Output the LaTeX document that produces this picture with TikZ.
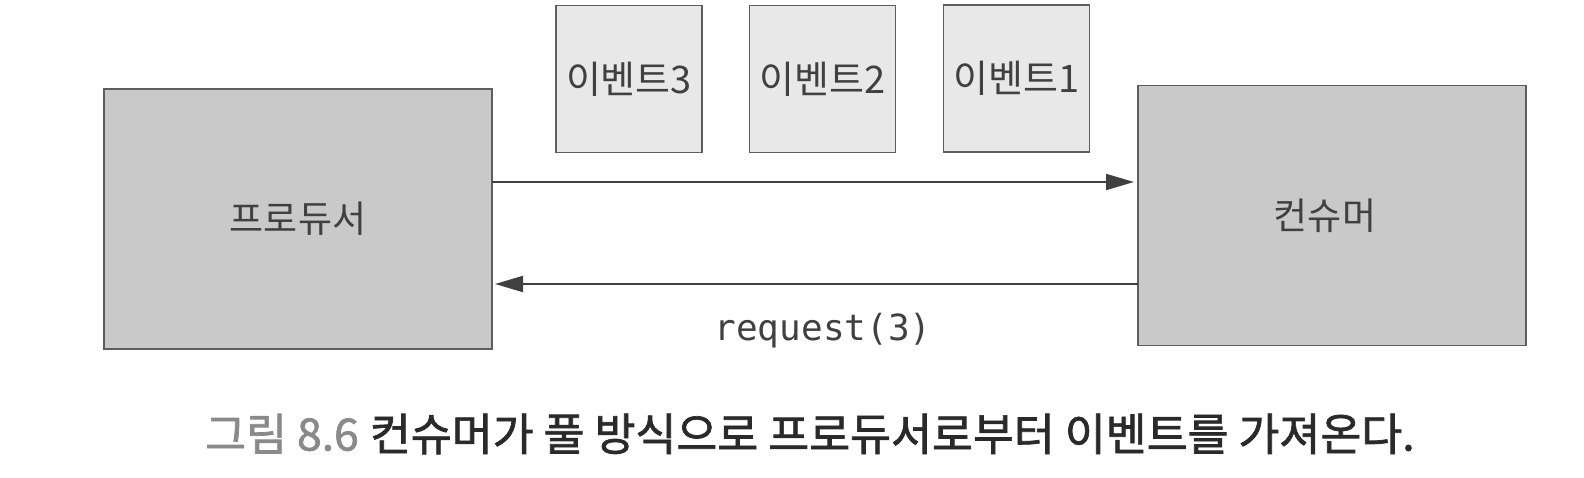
\documentclass[tikz,border=0pt]{standalone}
\usepackage{fontspec}
\setmainfont{Noto Sans CJK KR}
\newfontfamily\kr{Noto Sans CJK KR}
\newfontfamily\krcap[FakeBold=1.6]{Noto Sans CJK KR}
\newfontfamily\mono{DejaVu Sans Mono}
\usetikzlibrary{arrows.meta}
\definecolor{bigfill}{HTML}{C9C9C9}
\definecolor{smallfill}{HTML}{E8E8E8}
\definecolor{edge}{HTML}{5E5E5E}
\definecolor{ink}{HTML}{404040}
\definecolor{capgray}{HTML}{8A8A8A}
\definecolor{capdark}{HTML}{2A2A2A}
\tikzset{
  bigbox/.style={draw=edge, line width=1.4pt, fill=bigfill, minimum width=388pt, minimum height=260pt, inner sep=0pt, outer sep=0pt, font=\kr\fontsize{37}{44}\selectfont, text=ink},
  evbox/.style={draw=edge, line width=1.4pt, fill=smallfill, minimum width=146pt, minimum height=147pt, inner sep=0pt, outer sep=0pt, font=\kr\fontsize{38}{44}\selectfont, text=ink},
  flow/.style={draw=ink, line width=2pt, -{Triangle[length=28pt,width=16pt]}, shorten >=4pt},
}
\begin{document}
\begin{tikzpicture}[x=1pt,y=-1pt]
\useasboundingbox (0,0) rectangle (1584,478);
\node[bigbox] (prod) at (298,219) {프로듀서};
\node[bigbox] (cons) at (1332,215.5) {\hspace*{-14pt}컨슈머};
\node[evbox] (e3) at (629,79) {이벤트3};
\node[evbox] (e2) at (822.5,79) {이벤트2};
\node[evbox] (e1) at (1016.5,78.5) {이벤트1};
\coordinate (toprow) at (800,182);
\coordinate (botrow) at (800,284);
\draw[flow] (prod.east |- toprow) -- (cons.west |- toprow);
\draw[flow, shorten >=3pt] (cons.west |- botrow) -- (prod.east |- botrow);
\node[font=\mono\fontsize{36}{42}\selectfont, text=ink, inner sep=0pt] (req) at (823,331) {request(3)};
\node[anchor=west, inner sep=0pt, font=\fontsize{44.5}{52}\selectfont] (cap) at (205,434)
  {\textcolor{capgray}{\krcap 그림 8.6}\hspace{0.25em}\textcolor{capdark}{\krcap 컨슈머가 풀 방식으로 프로듀서로부터 이벤트를 가져온다.}};
\end{tikzpicture}
\end{document}
